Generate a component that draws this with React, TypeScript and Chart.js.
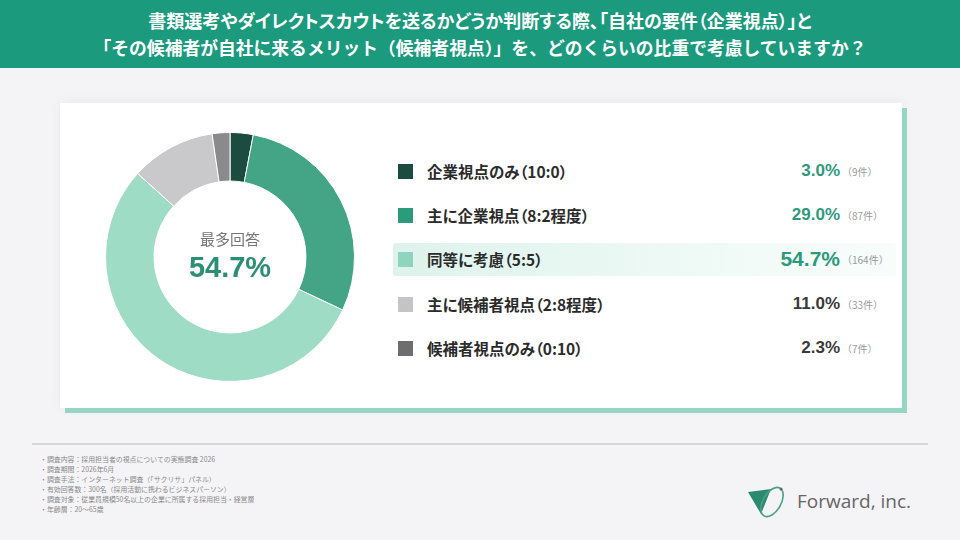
import React, { useEffect, useRef } from "react";
import { Chart, registerables } from "chart.js";

Chart.register(...registerables);

const titleLines = [
  "書類選考やダイレクトスカウトを送るかどうか判断する際、「自社の要件（企業視点）」と",
  "「その候補者が自社に来るメリット（候補者視点）」を、どのくらいの比重で考慮していますか？",
];
const categories = [
  "企業視点のみ（10:0）",
  "主に企業視点（8:2程度）",
  "同等に考慮（5:5）",
  "主に候補者視点（2:8程度）",
  "候補者視点のみ（0:10）",
];
const percents = [3.0, 29.0, 54.7, 11.0, 2.3];
const counts = [9, 87, 164, 33, 7];
const sliceColors = ["#1b4c3f", "#43a585", "#9edcc5", "#c9c9cc", "#8a8a8c"];
const squareColors = ["#1b4c3f", "#2a9b7b", "#8fd4bf", "#c4c4c6", "#6e6e70"];
const valueColors = ["#2e9a7c", "#2e9a7c", "#2e9a7c", "#3a3a3a", "#3a3a3a"];
const centerLabel = "最多回答";
const footnotes = [
  "・調査内容：採用担当者の視点についての実態調査 2026",
  "・調査期間：2026年6月",
  "・調査手法：インターネット調査（「サクリサ」パネル）",
  "・有効回答数：300名（採用活動に携わるビジネスパーソン）",
  "・調査対象：従業員規模50名以上の企業に所属する採用担当・経営層",
  "・年齢層：20～65歳",
];
const companyName = "Forward, inc.";

const maxIdx = percents.indexOf(Math.max(...percents));

const centerTextPlugin = {
  id: "centerText",
  afterDraw(chart: any) {
    const meta = chart.getDatasetMeta(0);
    const arc = meta.data[0];
    if (!arc) return;
    const { x, y } = arc;
    const ctx = chart.ctx;
    ctx.save();
    ctx.textAlign = "center";
    ctx.textBaseline = "middle";
    ctx.fillStyle = "#777777";
    ctx.font = "15px 'Noto Sans CJK JP'";
    ctx.fillText(centerLabel, x, y - 18);
    ctx.fillStyle = "#2a8f73";
    ctx.font = "bold 29px 'Liberation Sans', Arial, sans-serif";
    ctx.fillText(percents[maxIdx].toFixed(1) + "%", x, y + 12);
    ctx.restore();
  },
};

function Donut() {
  const ref = useRef<HTMLCanvasElement>(null);
  useEffect(() => {
    if (!ref.current) return;
    const chart = new Chart(ref.current, {
      type: "doughnut",
      data: {
        labels: categories,
        datasets: [
          {
            data: percents,
            backgroundColor: sliceColors,
            borderColor: "#ffffff",
            borderWidth: 1,
          },
        ],
      },
      options: {
        responsive: false,
        animation: false,
        cutout: "61%",
        layout: { padding: 5 },
        plugins: {
          legend: { display: false },
          tooltip: { enabled: false },
        },
      },
      plugins: [centerTextPlugin],
    });
    return () => chart.destroy();
  }, []);
  return (
    <canvas
      ref={ref}
      width={260}
      height={260}
      style={{ position: "absolute", left: 100, top: 127, width: 260, height: 260 }}
    />
  );
}

export default function App() {
  const rowY = [171, 215, 259, 304, 348];
  return (
    <div
      style={{
        position: "fixed",
        left: 0,
        top: 0,
        width: 960,
        height: 540,
        overflow: "hidden",
        background: "#f4f4f6",
        fontFamily: "'Noto Sans CJK JP', sans-serif",
      }}
    >
      {/* header */}
      <div
        style={{
          position: "absolute",
          left: 0,
          top: 0,
          width: 960,
          height: 68,
          background: "#1c9a7d",
        }}
      >
        {titleLines.map((t, i) => (
          <div
            key={i}
            style={{
              position: "absolute",
              left: 0,
              width: 960,
              top: i === 0 ? 8 : 35,
              textAlign: "center",
              color: "#ffffff",
              fontWeight: 700,
              fontSize: i === 0 ? 18 : 17.8,
              lineHeight: "24px",
              whiteSpace: "nowrap",
              fontFeatureSettings: i === 0 ? '"palt"' : "normal",
            }}
          >
            {t}
          </div>
        ))}
      </div>

      {/* card */}
      <div
        style={{
          position: "absolute",
          left: 60,
          top: 103,
          width: 842,
          height: 305,
          background: "#ffffff",
          boxShadow: "5px 5px 0 #94d6c0, 0 0 12px rgba(0,0,0,0.05)",
        }}
      />

      <Donut />

      {/* legend */}
      {categories.map((c, i) => (
        <div key={i}>
          {i === maxIdx && (
            <div
              style={{
                position: "absolute",
                left: 393,
                top: rowY[i] - 16,
                width: 503,
                height: 33,
                borderRadius: 3,
                background:
                  "linear-gradient(90deg, rgba(158,220,197,0.35), rgba(200,238,225,0.25) 70%, rgba(220,244,236,0.2))",
              }}
            />
          )}
          <div
            style={{
              position: "absolute",
              left: 398,
              top: rowY[i] - 7,
              width: 15,
              height: 15,
              background: squareColors[i],
            }}
          />
          <div
            style={{
              position: "absolute",
              left: 427,
              top: rowY[i] - 12,
              height: 24,
              lineHeight: "24px",
              fontSize: 15.5,
              fontWeight: 700,
              color: "#2b2b2b",
              whiteSpace: "nowrap",
              fontFeatureSettings: '"palt"',
            }}
          >
            {c}
          </div>
          <div
            style={{
              position: "absolute",
              right: 960 - 840,
              top: rowY[i] - 14,
              height: 28,
              lineHeight: "28px",
              fontSize: i === maxIdx ? 21 : 17,
              fontWeight: 700,
              fontFamily: "'Liberation Sans', Arial, sans-serif",
              color: valueColors[i],
              whiteSpace: "nowrap",
            }}
          >
            {percents[i].toFixed(1)}%
          </div>
          <div
            style={{
              position: "absolute",
              left: 842,
              top: rowY[i] - 8,
              height: 18,
              lineHeight: "18px",
              fontSize: 10,
              color: "#9a9a9a",
              whiteSpace: "nowrap",
            }}
          >
            （{counts[i]}件）
          </div>
        </div>
      ))}

      {/* separator */}
      <div
        style={{
          position: "absolute",
          left: 32,
          top: 443,
          width: 896,
          height: 2,
          background: "#d6d6d8",
        }}
      />

      {/* footnotes */}
      {footnotes.map((f, i) => (
        <div
          key={i}
          style={{
            position: "absolute",
            left: 40,
            top: 455 + i * 9.9,
            fontSize: 6.9,
            lineHeight: "9px",
            color: "#8a8a8a",
            whiteSpace: "nowrap",
          }}
        >
          {f}
        </div>
      ))}

      {/* logo */}
      <svg
        style={{ position: "absolute", left: 745, top: 484 }}
        width={50}
        height={38}
        viewBox="0 0 50 38"
      >
        <path d="M3 8 L26 5 L16 30 Z" fill="#2a8a6e" />
        <ellipse
          cx={27}
          cy={18}
          rx={9}
          ry={16}
          transform="rotate(30 27 18)"
          fill="none"
          stroke="#4aa088"
          strokeWidth={1.6}
        />
        <circle cx={36} cy={5} r={1.5} fill="#666" />
      </svg>
      <div
        style={{
          position: "absolute",
          left: 797,
          top: 489,
          fontSize: 19,
          lineHeight: "24px",
          color: "#666666",
          fontFamily: "'Open Sans', sans-serif",
          whiteSpace: "nowrap",
        }}
      >
        {companyName}
      </div>
    </div>
  );
}
